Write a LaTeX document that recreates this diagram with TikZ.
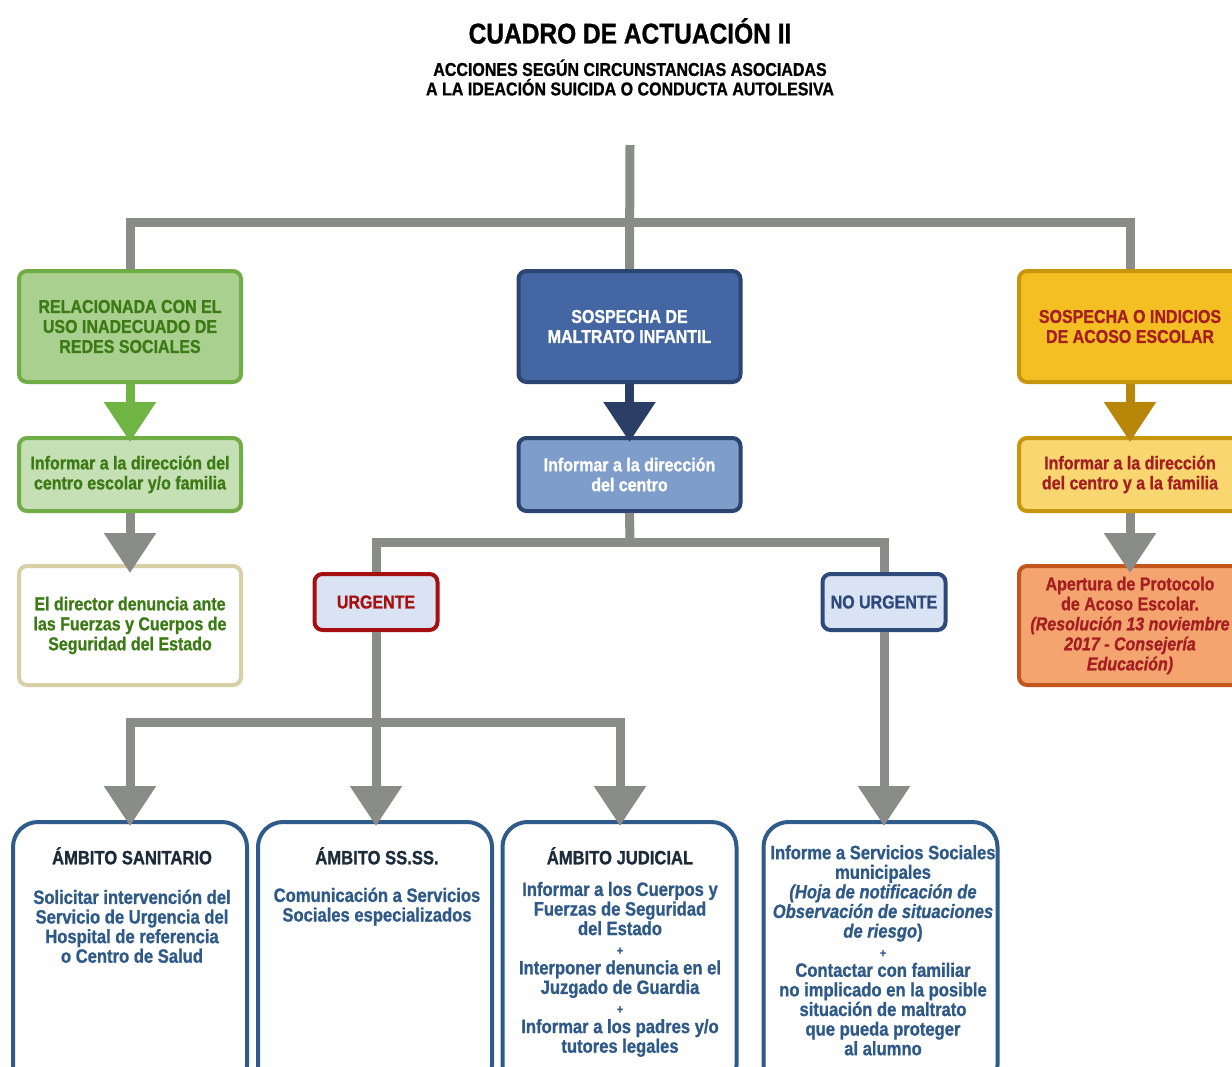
\documentclass[tikz,border=0pt]{standalone}
\usepackage{fontspec}
\setmainfont{Liberation Sans}[FakeStretch=0.86, FakeBold=1, UprightFont={* Bold}, ItalicFont={* Bold Italic}, BoldFont={* Bold}, BoldItalicFont={* Bold Italic}]
\usetikzlibrary{arrows.meta}
\definecolor{linegray}{HTML}{8A8C87}
\definecolor{gfill}{HTML}{A9D08E}
\definecolor{gfillL}{HTML}{C5E0B4}
\definecolor{gborder}{HTML}{70AD47}
\definecolor{gtext}{HTML}{3B7A14}
\definecolor{garrow}{HTML}{70B444}
\definecolor{beige}{HTML}{D8CFA6}
\definecolor{bfill}{HTML}{4467A3}
\definecolor{bfillL}{HTML}{7F9DCA}
\definecolor{bborder}{HTML}{2C4470}
\definecolor{barrow}{HTML}{2B3F66}
\definecolor{ufill}{HTML}{DAE3F3}
\definecolor{ured}{HTML}{A50F0F}
\definecolor{unavy}{HTML}{2E4A7A}
\definecolor{yfill}{HTML}{F4BF22}
\definecolor{yfillL}{HTML}{F9D66F}
\definecolor{yborder}{HTML}{C8960C}
\definecolor{yarrow}{HTML}{B8870A}
\definecolor{ytext}{HTML}{A41E22}
\definecolor{ofill}{HTML}{F4A46E}
\definecolor{oborder}{HTML}{C4561C}
\definecolor{botborder}{HTML}{2E5B8A}
\definecolor{bottext}{HTML}{2F5A88}
\definecolor{bothead}{HTML}{1C2B3A}
\newcommand\bxfont{\fontsize{18.6}{20}\selectfont}
\newcommand\btfont{\fontsize{19.3}{19.6}\selectfont}
\newcommand\plussign{{\fontsize{12.5}{12}\selectfont +}}
\begin{document}
\begin{tikzpicture}[x=1pt,y=-1pt,
  conn/.style={draw=linegray, line width=9pt},
  arr/.style={conn, -{Triangle[width=50pt,length=40pt]}, shorten >=-6pt},
  box/.style={rectangle, rounded corners=8pt, line width=4pt, align=center, font=\bxfont, inner sep=2pt, minimum width=222pt},
  bigbox/.style={box, minimum height=111pt},
  midbox/.style={box, minimum height=73pt},
  lowbox/.style={box, minimum height=119pt},
  smallbox/.style={box, minimum width=123pt, minimum height=56pt, fill=ufill},
  botbox/.style={rectangle, rounded corners=25pt, line width=4pt, draw=botborder, fill=white, minimum width=234pt, minimum height=268pt},
  bottxt/.style={align=center, font=\btfont, text=bottext, inner sep=0pt}]
\useasboundingbox (0,0) rectangle (1232,1066);
\clip (0,0) rectangle (1232,1066);
\fill[white] (0,0) rectangle (1232,1066);

% titles
\node[font=\fontsize{28.5}{34}\selectfont] (title) at (630,31) {CUADRO DE ACTUACIÓN II};
\node[font=\fontsize{18.6}{19.5}\selectfont, align=center] (subtitle) at (630,77.5) {ACCIONES SEGÚN CIRCUNSTANCIAS ASOCIADAS\\A LA IDEACIÓN SUICIDA O CONDUCTA AUTOLESIVA};

% left column
\node[bigbox, fill=gfill, draw=gborder, text=gtext] (g1) at (130,326.5) {RELACIONADA CON EL\\USO INADECUADO DE\\REDES SOCIALES};
\node[midbox, fill=gfillL, draw=gborder, text=gtext] (g2) at (130,474.5) {Informar a la dirección del\\centro escolar y/o familia};
\node[lowbox, fill=white, draw=beige, text=gtext] (g3) at (130,625.5) {El director denuncia ante\\las Fuerzas y Cuerpos de\\Seguridad del Estado};

% centre column
\node[bigbox, fill=bfill, draw=bborder, text=white] (b1) at (629.5,326.5) {SOSPECHA DE\\MALTRATO INFANTIL};
\node[midbox, fill=bfillL, draw=bborder, text=white] (b2) at (629.5,474.5) {Informar a la dirección\\del centro};
\node[smallbox, draw=ured, text=ured] (urg) at (376,602) {URGENTE};
\node[smallbox, draw=unavy, text=unavy] (nourg) at (884,602) {NO URGENTE};

% right column
\node[bigbox, fill=yfill, draw=yborder, text=ytext] (y1) at (1130,326.5) {SOSPECHA O INDICIOS\\DE ACOSO ESCOLAR};
\node[midbox, fill=yfillL, draw=yborder, text=ytext] (y2) at (1130,474.5) {Informar a la dirección\\del centro y a la familia};
\node[lowbox, fill=ofill, draw=oborder, text=ytext] (y3) at (1130,625.5) {Apertura de Protocolo\\de Acoso Escolar.\\\itshape(Resolución 13 noviembre\\\itshape 2017 - Consejería\\\itshape Educación)};

% bottom boxes
\node[botbox] (s1) at (130,956) {};
\node[botbox] (s2) at (375,956) {};
\node[botbox] (s3) at (619.5,956) {};
\node[botbox] (s4) at (880.5,956) {};

\node[bottxt, anchor=north] (t1) at (132,847) {\textcolor{bothead}{ÁMBITO SANITARIO}\\[20pt]Solicitar intervención del\\Servicio de Urgencia del\\Hospital de referencia\\o Centro de Salud};
\node[bottxt, anchor=north] (t2) at (377,847) {\textcolor{bothead}{ÁMBITO SS.SS.}\\[18pt]Comunicación a Servicios\\Sociales especializados};
\node[bottxt, anchor=north] (t3) at (620,847) {\textcolor{bothead}{ÁMBITO JUDICIAL}\\[12pt]Informar a los Cuerpos y\\Fuerzas de Seguridad\\del Estado\\\plussign\\Interponer denuncia en el\\Juzgado de Guardia\\\plussign\\Informar a los padres y/o\\tutores legales};
\node[bottxt, anchor=north] (t4) at (883,845) {Informe a Servicios Sociales\\municipales\\\textit{(Hoja de notificación de}\\\textit{Observación de situaciones}\\\textit{de riesgo})\\\plussign\\Contactar con familiar\\no implicado en la posible\\situación de maltrato\\que pueda proteger\\al alumno};

% connectors
\coordinate (top) at (630,145);
\coordinate (j1) at (630,222);
\coordinate (j2) at (630,542);
\coordinate (j3) at (376,722);
\draw[conn] (top) -- (b1.north);
\draw[conn] (g1.north) |- (j1) -| (y1.north);
\draw[conn] (b2.south) -- (j2);
\draw[conn] (urg.north) |- (j2) -| (nourg.north);

\draw[arr, draw=garrow] (g1.south) -- (g2.north);
\draw[arr, shorten >=-9pt] (g2.south) -- (g3.north);
\draw[arr, draw=barrow] (b1.south) -- (b2.north);
\draw[arr, draw=yarrow] (y1.south) -- (y2.north);
\draw[arr, shorten >=-9pt] (y2.south) -- (y3.north);

\draw[arr] (urg.south) -- (urg.south |- s2.north);
\draw[arr] (j3) -| (s1.north);
\draw[arr] (j3) -| (s3.north -| 620,0);
\draw[arr] (nourg.south) -- (nourg.south |- s4.north);
\end{tikzpicture}
\end{document}
